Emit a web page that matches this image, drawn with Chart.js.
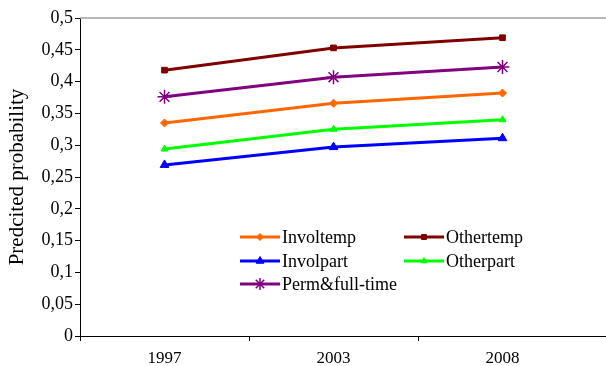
<!DOCTYPE html>
<html>
<head>
<meta charset="utf-8">
<script src="https://cdn.jsdelivr.net/npm/chart.js@4"></script>
<style>
  html, body { margin: 0; padding: 0; background: #fff; }
  #wrap { width: 606px; height: 366px; }
</style>
</head>
<body>
<div id="wrap"><canvas id="chart"></canvas></div>
<script>
const years = ['1997', '2003', '2008'];
const involtemp = [0.335, 0.366, 0.382];
const othertemp = [0.418, 0.453, 0.469];
const involpart = [0.269, 0.297, 0.311];
const otherpart = [0.294, 0.325, 0.340];
const permFull = [0.376, 0.407, 0.423];

function series(label, values, color, style, radius) {
    return {
        label: label,
        data: values,
        borderColor: color,
        backgroundColor: color,
        borderWidth: 3,
        pointStyle: style,
        pointRadius: radius,
        pointBorderWidth: style === 'star' ? 1.5 : 1,
        tension: 0
    };
}

// legend drawn inside the plot, two columns
const insideLegend = {
    id: 'insideLegend',
    afterDatasetsDraw(chart) {
        const ctx = chart.ctx;
        const cols = [240, 404];
        const rows = [237, 261, 284];
        ctx.save();
        chart.data.datasets.forEach((ds, i) => {
            const x = cols[i % 2];
            const y = rows[Math.floor(i / 2)];
            ctx.strokeStyle = ds.borderColor;
            ctx.fillStyle = ds.backgroundColor;
            ctx.lineWidth = 3;
            ctx.beginPath();
            ctx.moveTo(x, y);
            ctx.lineTo(x + 40, y);
            ctx.stroke();
            ctx.lineWidth = ds.pointBorderWidth;
            Chart.helpers.drawPoint(ctx, {
                pointStyle: ds.pointStyle,
                radius: ds.pointStyle === 'star' ? 6 : ds.pointRadius - 0.5,
                borderWidth: ds.pointBorderWidth
            }, x + 20, y);
            ctx.fillStyle = '#000';
            ctx.font = '18px "Liberation Serif", serif';
            ctx.textBaseline = 'middle';
            ctx.fillText(ds.label, x + 42, y + 1);
        });
        ctx.restore();
    }
};

// top border and x axis run on to the right edge of the picture
const frame = {
    id: 'frame',
    afterDraw(chart) {
        const ctx = chart.ctx;
        const a = chart.chartArea;
        ctx.save();
        ctx.strokeStyle = '#a0a0a0';
        ctx.lineWidth = 1.5;
        ctx.beginPath();
        ctx.moveTo(a.left, a.top);
        ctx.lineTo(chart.width, a.top);
        ctx.stroke();
        ctx.strokeStyle = '#000';
        ctx.lineWidth = 1;
        ctx.beginPath();
        ctx.moveTo(a.right, a.bottom + 0.5);
        ctx.lineTo(chart.width, a.bottom + 0.5);
        ctx.stroke();
        ctx.restore();
    }
};

new Chart(document.getElementById('chart'), {
    type: 'line',
    data: {
        labels: years,
        datasets: [
            series('Involtemp', involtemp, '#ff6600', 'rectRot', 4),
            series('Othertemp', othertemp, '#800000', 'rect', 4),
            series('Involpart', involpart, '#0000ff', 'triangle', 5),
            series('Otherpart', otherpart, '#00ff00', 'triangle', 4),
            series('Perm&full-time', permFull, '#800080', 'star', 7)
        ]
    },
    plugins: [insideLegend, frame],
    options: {
        responsive: true,
        maintainAspectRatio: false,
        animation: false,
        layout: { padding: { left: 5, top: 18, right: 19, bottom: 0 } },
        plugins: {
            legend: { display: false },
            tooltip: { enabled: false }
        },
        scales: {
            x: {
                offset: true,
                afterFit(scale) { scale.height = 30; },
                grid: {
                    offset: true,
                    drawOnChartArea: false,
                    drawTicks: true,
                    tickLength: 5,
                    color: c => c.tick ? '#000' : 'rgba(0,0,0,0)'
                },
                border: { color: '#000', width: 1 },
                ticks: {
                    color: '#000',
                    padding: 7,
                    maxRotation: 0,
                    font: { family: '"Liberation Serif", serif', size: 17 }
                }
            },
            y: {
                min: 0,
                max: 0.5,
                afterFit(scale) { scale.width = 75; },
                grid: {
                    drawOnChartArea: false,
                    drawTicks: true,
                    tickLength: 5,
                    color: '#000'
                },
                border: { color: '#000', width: 1 },
                ticks: {
                    stepSize: 0.05,
                    color: '#000',
                    padding: 2,
                    font: { family: '"Liberation Serif", serif', size: 18 },
                    callback: v => String(Math.round(v * 100) / 100).replace('.', ',')
                },
                title: {
                    display: true,
                    text: 'Predcited probability',
                    color: '#000',
                    padding: 0,
                    font: { family: '"Liberation Serif", serif', size: 21 }
                }
            }
        }
    }
});
</script>
</body>
</html>
